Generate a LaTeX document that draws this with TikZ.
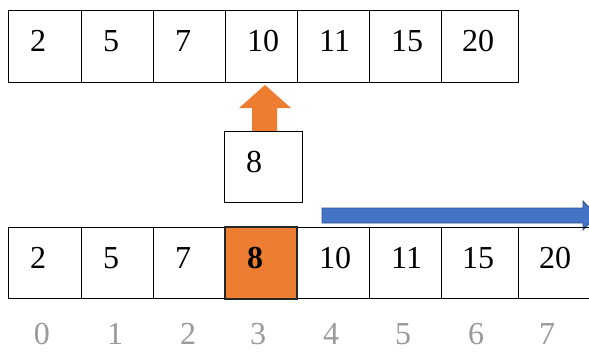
\documentclass[tikz,border=0pt]{standalone}
\usepackage{fontspec}
\setmainfont{Liberation Serif}
\usetikzlibrary{calc}
\definecolor{orangeA}{HTML}{ED7D31}
\definecolor{blueA}{HTML}{4472C4}
\definecolor{blueB}{HTML}{2F528F}
\definecolor{idxgray}{HTML}{9A9A9A}
\newcommand{\numsz}{\fontsize{32}{32}\selectfont}
\tikzset{
  cell/.style={draw=black, line width=0.9pt, minimum height=71.5pt, inner sep=0pt, outer sep=0pt, anchor=north west},
  num/.style={font=\numsz, anchor=base west, inner sep=0pt},
  idx/.style={font=\numsz, text=idxgray, anchor=base, inner sep=0pt},
  hot/.style={cell, fill=orangeA, line width=2pt, draw=black!85},
}
\begin{document}
\begin{tikzpicture}[x=1pt,y=-1pt]
\useasboundingbox (0,0) rectangle (589,351);
\clip (0,0) rectangle (589,351);
% top row
\node[cell, minimum width=73pt] (t0) at (8,10.7) {};
\node[cell, minimum width=72pt] (t1) at (81,10.7) {};
\node[cell, minimum width=72pt] (t2) at (153,10.7) {};
\node[cell, minimum width=72pt] (t3) at (225,10.7) {};
\node[cell, minimum width=72pt] (t4) at (297,10.7) {};
\node[cell, minimum width=72pt] (t5) at (369,10.7) {};
\node[cell, minimum width=77pt] (t6) at (441,10.7) {};
\node[num] (tt0) at ($(t0.north west)+(22,41)$) {2};
\node[num] (tt1) at ($(t1.north west)+(22,41)$) {5};
\node[num] (tt2) at ($(t2.north west)+(22,41)$) {7};
\node[num] (tt3) at ($(t3.north west)+(22,41)$) {10};
\node[num] (tt4) at ($(t4.north west)+(22,41)$) {11};
\node[num] (tt5) at ($(t5.north west)+(22,41)$) {15};
\node[num] (tt6) at ($(t6.north west)+(21,41)$) {20};
% orange up arrow
\fill[orangeA] (252,131) -- (252,108) -- (239,108) -- (265,85) -- (291,108) -- (277,108) -- (277,131) -- cycle;
% box 8
\node[cell, minimum width=78pt, minimum height=71pt] (nb) at (224,131) {};
\node[num] (nbt) at ($(nb.north west)+(22,41)$) {8};
% blue arrow
\filldraw[fill=blueA, draw=blueB, line width=0.8pt] (322,208) -- (583,208) -- (583,201) -- (597,215.5) -- (583,230) -- (583,223) -- (322,223) -- cycle;
% bottom row
\node[cell, minimum width=73pt] (b0) at (8,227.3) {};
\node[cell, minimum width=72pt] (b1) at (81,227.3) {};
\node[cell, minimum width=72pt] (b2) at (153,227.3) {};
\node[cell, minimum width=72pt] (b4) at (297,227.3) {};
\node[cell, minimum width=72pt] (b5) at (369,227.3) {};
\node[cell, minimum width=77pt] (b6) at (441,227.3) {};
\node[cell, minimum width=82pt] (b7) at (518,227.3) {};
\node[hot, minimum width=72pt] (b3) at (225,227.3) {};
\node[num] (bt0) at ($(b0.north west)+(22,41)$) {2};
\node[num] (bt1) at ($(b1.north west)+(22,41)$) {5};
\node[num] (bt2) at ($(b2.north west)+(22,41)$) {7};
\node[num] (bt3) at ($(b3.north west)+(22,41)$) {\textbf{8}};
\node[num] (bt4) at ($(b4.north west)+(22,41)$) {10};
\node[num] (bt5) at ($(b5.north west)+(22,41)$) {11};
\node[num] (bt6) at ($(b6.north west)+(21,41)$) {15};
\node[num] (bt7) at ($(b7.north west)+(21,41)$) {20};
% indices
\node[idx] (i0) at (42,344) {0};
\node[idx] (i1) at (115,344) {1};
\node[idx] (i2) at (188,344) {2};
\node[idx] (i3) at (258,344) {3};
\node[idx] (i4) at (331,344) {4};
\node[idx] (i5) at (403,344) {5};
\node[idx] (i6) at (476,344) {6};
\node[idx] (i7) at (547,344) {7};
\end{tikzpicture}
\end{document}
